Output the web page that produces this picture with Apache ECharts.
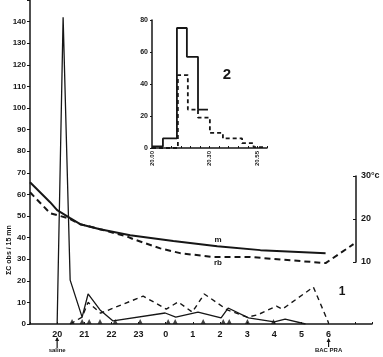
<!DOCTYPE html>
<html><head><meta charset="utf-8">
<script src="https://cdn.jsdelivr.net/npm/echarts@6/dist/echarts.min.js"></script>
<style>html,body{margin:0;padding:0;background:#fff}#c{width:383px;height:357px}</style>
</head><body><div id="c"></div>
<script>
// Main chart: hours counted continuously (24 = 0h, 30 = 6h)
const mHours  = [19.0, 19.74, 20.0, 20.48, 20.85, 21.58, 22.69, 24.28, 25.9, 27.49, 29.89];
const mValues = [65.6, 56.4, 52.7, 49.0, 46.2, 43.9, 41.1, 38.4, 36.0, 34.2, 32.8];
const rbHours  = [19.0, 19.74, 20.4, 20.85, 21.58, 22.58, 22.8, 23.8, 24.53, 25.75, 27.12, 29.89, 30.92];
const rbValues = [61.0, 51.3, 49.0, 46.2, 43.9, 40.5, 39.3, 35.0, 32.8, 31.0, 31.0, 28.2, 37.0];
const spikeHours  = [20.0, 20.22, 20.48, 20.92, 21.14, 21.58, 22.06, 23.98, 24.37, 25.19, 26.04, 26.3, 27.05, 28.0, 28.4, 29.15];
const spikeValues = [0, 142, 20.3, 3.2, 13.9, 6.5, 1.4, 5.1, 3.2, 5.5, 2.8, 7.4, 2.8, 1.0, 2.3, 0];
const lowDashHours  = [20.48, 20.92, 21.14, 21.6, 23.17, 24.02, 24.46, 24.98, 25.42, 26.27, 27.0, 27.38, 28.08, 28.3, 29.44, 30.0];
const lowDashValues = [0, 3.2, 10, 5, 12.9, 6.9, 10.2, 5.5, 13.9, 6.5, 3.2, 4.2, 8.3, 6.9, 17.1, 0.5];
const markerHours = [20.55, 20.92, 21.18, 21.58, 22.14, 23.06, 24.09, 24.35, 25.38, 26.12, 26.34, 27.01, 27.97];
const hourLabels = [20, 21, 22, 23, 0, 1, 2, 3, 4, 5, 6];
// Inset (2): step histograms, x in minutes
const insetSolidX = [0, 5.7, 13, 18.2, 24, 29.2];
const insetSolidY = [1, 6, 75, 57, 24, 24];
const insetDashX = [0, 13.5, 18.7, 24, 30.2, 37, 47, 53, 59];
const insetDashY = [0, 45.6, 24, 19, 9.4, 6, 3, 0.6, 0.6];
const insetTickValues = [0, 30, 55];
const insetTickLabels = ['20.00', '20.30', '20.55'];

const zip = (a, b) => a.map((v, i) => [v, b[i]]);
const INK = '#161616';
const FONT = 'Liberation Sans';
const chart = echarts.init(document.getElementById('c'), null, {renderer: 'canvas'});
const baseLabel = {color: INK, fontFamily: FONT, fontWeight: 'bold', fontSize: 8};

chart.setOption({
  animation: false,
  backgroundColor: '#fff',
  grid: [
    {left: 30, top: -0.6, width: 342, height: 324.6},
    {left: 30, top: 176, width: 326, height: 86},
    {left: 152, top: 20, width: 115, height: 128}
  ],
  xAxis: [
    {gridIndex: 0, type: 'value', min: 19, max: 31.6, interval: 1,
     axisLine: {lineStyle: {color: INK, width: 1.5}},
     axisTick: {show: true, inside: true, length: 2, lineStyle: {color: INK}},
     splitLine: {show: false},
     axisLabel: Object.assign({}, baseLabel, {fontSize: 9, margin: 6,
       formatter: v => (v < 19.5 || v > 30.5) ? '' : String(Math.round(v) % 24)})},
    {gridIndex: 1, type: 'value', min: 19, max: 31, show: false},
    {gridIndex: 2, type: 'value', min: 0, max: 60,
     axisLine: {lineStyle: {color: INK, width: 1.5}},
     axisTick: {show: true, inside: true, length: 2, customValues: [0,5,10,15,20,25,30,35,40,45,50,55,60]},
     splitLine: {show: false},
     axisLabel: Object.assign({}, baseLabel, {fontSize: 6, rotate: 90, margin: 3,
       customValues: insetTickValues,
       formatter: v => insetTickLabels[insetTickValues.indexOf(v)] || ''})}
  ],
  yAxis: [
    {gridIndex: 0, type: 'value', min: 0, max: 150, interval: 10,
     axisLine: {show: true, lineStyle: {color: INK, width: 1.5}},
     axisTick: {show: true, length: 3, lineStyle: {color: INK}},
     splitLine: {show: false},
     axisLabel: Object.assign({}, baseLabel, {margin: 4, formatter: v => v >= 150 ? '' : String(v)})},
    {gridIndex: 1, type: 'value', position: 'right', min: 10, max: 30, interval: 10,
     axisLine: {show: true, lineStyle: {color: INK, width: 1.5}},
     axisTick: {show: true, length: 3, inside: true, lineStyle: {color: INK}},
     splitLine: {show: false},
     axisLabel: Object.assign({}, baseLabel, {fontSize: 9, margin: 5, formatter: v => v === 30 ? '30°c' : String(v)})},
    {gridIndex: 2, type: 'value', min: 0, max: 80, interval: 20,
     axisLine: {show: true, lineStyle: {color: INK, width: 1.5}},
     axisTick: {show: true, length: 2, lineStyle: {color: INK}},
     splitLine: {show: false},
     axisLabel: Object.assign({}, baseLabel, {fontSize: 7, margin: 4})}
  ],
  series: [
    {name: 'm', type: 'line', xAxisIndex: 0, yAxisIndex: 0, data: zip(mHours, mValues),
     showSymbol: false, lineStyle: {color: INK, width: 2}},
    {name: 'rb', type: 'line', xAxisIndex: 0, yAxisIndex: 0, data: zip(rbHours, rbValues),
     showSymbol: false, lineStyle: {color: INK, width: 2, type: [6, 4]}},
    {name: 'spike', type: 'line', xAxisIndex: 0, yAxisIndex: 0, data: zip(spikeHours, spikeValues),
     showSymbol: false, lineStyle: {color: INK, width: 1.3}},
    {name: 'low', type: 'line', xAxisIndex: 0, yAxisIndex: 0, data: zip(lowDashHours, lowDashValues),
     showSymbol: false, lineStyle: {color: INK, width: 1.4, type: [5, 4]}},
    {name: 'marks', type: 'scatter', xAxisIndex: 0, yAxisIndex: 0,
     data: markerHours.map(h => [h, 0]), symbol: 'triangle', symbolSize: [5, 5], symbolOffset: [0, -2.5],
     itemStyle: {color: INK}},
    {name: 'insetSolid', type: 'line', xAxisIndex: 2, yAxisIndex: 2, step: 'end',
     data: zip(insetSolidX, insetSolidY), showSymbol: false, lineStyle: {color: INK, width: 1.8}},
    {name: 'insetDash', type: 'line', xAxisIndex: 2, yAxisIndex: 2, step: 'end',
     data: zip(insetDashX, insetDashY), showSymbol: false, lineStyle: {color: INK, width: 1.8, type: [4, 3]}}
  ]
});

const p20 = chart.convertToPixel({xAxisIndex: 0, yAxisIndex: 0}, [20, 0]);
const p6 = chart.convertToPixel({xAxisIndex: 0, yAxisIndex: 0}, [30, 0]);
const txt = (x, y, s, size, extra) => Object.assign({type: 'text', x: x, y: y,
  style: {text: s, fill: INK, font: 'bold ' + size + 'px ' + FONT, textAlign: 'center', textVerticalAlign: 'middle'}}, extra || {});
const arrow = (x, y0, y1) => ([
  {type: 'line', shape: {x1: x, y1: y0, x2: x, y2: y1}, style: {stroke: INK, lineWidth: 1.2}},
  {type: 'polygon', shape: {points: [[x, y1 - 1], [x - 2, y1 + 3], [x + 2, y1 + 3]]}, style: {fill: INK}}
]);
chart.setOption({
  graphic: [
    txt(9, 250, 'ΣC obs / 15 mn', 7, {rotation: Math.PI / 2}),
    txt(218, 240, 'm', 8),
    txt(218, 263, 'rb', 8),
    txt(342, 292, '1', 12, {style: {text: '1', fill: INK, font: 'bold 12px ' + FONT, textAlign: 'center', textVerticalAlign: 'middle'}}),
    txt(227, 75, '2', 15),
    ...arrow(p20[0], 348, 338),
    txt(p20[0], 350, 'saline', 6),
    ...arrow(p6[0], 347, 339),
    txt(p6[0], 350, 'BAC PRA', 6)
  ]
});
</script>
</body></html>
